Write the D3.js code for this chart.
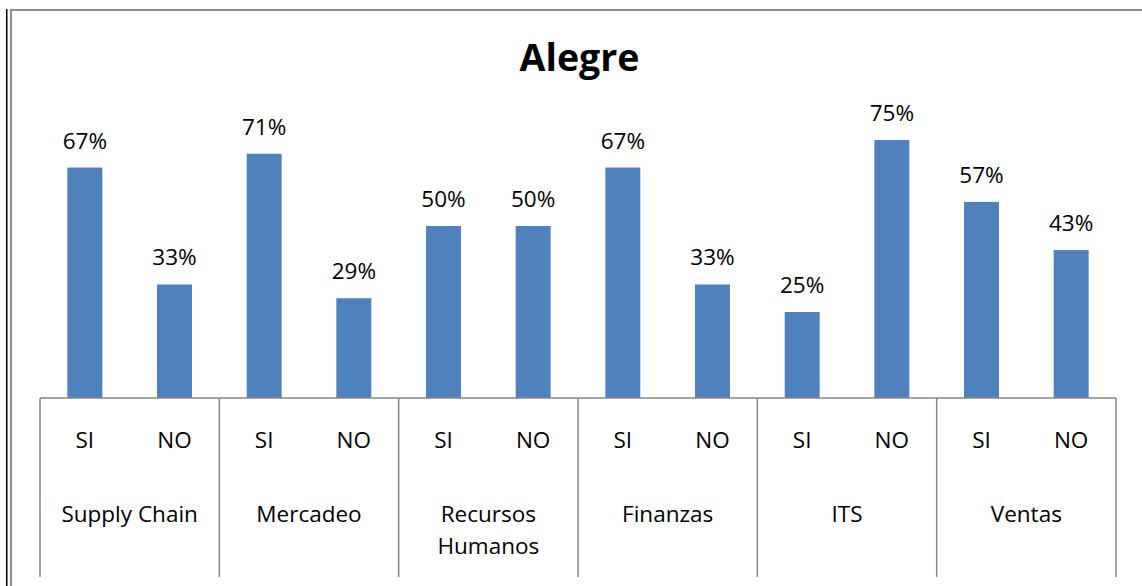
<!DOCTYPE html>
<html>
<head>
<meta charset="utf-8">
<script src="https://cdn.jsdelivr.net/npm/d3@7"></script>
<style>
  html, body { margin: 0; padding: 0; background: #ffffff; }
  svg { display: block; }
  text { font-family: "Open Sans", "Liberation Sans", sans-serif; fill: #000; }
</style>
</head>
<body>
<svg id="chart" width="1142" height="586"></svg>
<script>
// Chart data
const title = "Alegre";
const categories = ["Supply Chain", "Mercadeo", "Recursos Humanos", "Finanzas", "ITS", "Ventas"];
const answers = ["SI", "NO"];
const siValues = [67, 71, 50, 67, 25, 57];
const noValues = [33, 29, 50, 33, 75, 43];

const rows = categories.map((c, i) => ({
  category: c,
  bars: [
    { answer: answers[0], value: siValues[i] },
    { answer: answers[1], value: noValues[i] }
  ]
}));

const W = 1142, H = 586;
const svg = d3.select("#chart");
const labelSize = "22.5px";

// Frame
const frameColor = "#8c8c8c";
svg.append("line").attr("x1", 6.75).attr("x2", 6.75).attr("y1", 9).attr("y2", H)
  .attr("stroke", "#000").attr("stroke-width", 1.5);
svg.append("line").attr("x1", 11).attr("x2", 11).attr("y1", 9).attr("y2", H)
  .attr("stroke", frameColor).attr("stroke-width", 2);
svg.append("line").attr("x1", 10).attr("x2", W).attr("y1", 10).attr("y2", 10)
  .attr("stroke", frameColor).attr("stroke-width", 2);

// Scales
const plotLeft = 40, plotRight = 1116, baseY = 398, axisBottom = 577;
const x = d3.scaleBand().domain(categories).range([plotLeft, plotRight]).padding(0);
const xSub = d3.scaleBand().domain(answers).range([0, x.bandwidth()])
  .paddingInner(0.61).paddingOuter(0.305);
const y = d3.scaleLinear().domain([0, 100]).range([baseY, 54]);

// Title
svg.append("text")
  .attr("x", 579.5).attr("y", 70.5)
  .attr("text-anchor", "middle")
  .style("font-size", "37.5px").style("font-weight", "bold")
  .text(title);

// Bars and value labels
const groups = svg.selectAll("g.cat").data(rows).join("g")
  .attr("class", "cat")
  .attr("transform", d => `translate(${x(d.category)},0)`);

groups.selectAll("rect").data(d => d.bars).join("rect")
  .attr("x", d => xSub(d.answer))
  .attr("y", d => y(d.value))
  .attr("width", xSub.bandwidth())
  .attr("height", d => baseY - y(d.value))
  .attr("fill", "#4f81bd");

groups.selectAll("text.val").data(d => d.bars).join("text")
  .attr("class", "val")
  .attr("x", d => xSub(d.answer) + xSub.bandwidth() / 2)
  .attr("y", d => y(d.value) - 19)
  .attr("text-anchor", "middle")
  .style("font-size", labelSize)
  .text(d => d.value + "%");

// Axis: baseline and category dividers
const axisColor = "#868686";
svg.append("line").attr("x1", plotLeft).attr("x2", plotRight)
  .attr("y1", baseY).attr("y2", baseY)
  .attr("stroke", axisColor).attr("stroke-width", 1.5);

const edges = categories.map(c => x(c)).concat([plotRight]);
svg.selectAll("line.div").data(edges).join("line")
  .attr("class", "div")
  .attr("x1", d => d).attr("x2", d => d)
  .attr("y1", baseY).attr("y2", axisBottom)
  .attr("stroke", axisColor).attr("stroke-width", 1.5);

// Sub-category labels (SI / NO)
groups.selectAll("text.sub").data(d => d.bars).join("text")
  .attr("class", "sub")
  .attr("x", d => xSub(d.answer) + xSub.bandwidth() / 2)
  .attr("y", 448)
  .attr("text-anchor", "middle")
  .style("font-size", labelSize)
  .text(d => d.answer);

// Category labels, wrapped to the band width
const maxLabel = x.bandwidth() - 20;
groups.append("text")
  .attr("class", "catlabel")
  .attr("text-anchor", "middle")
  .style("font-size", labelSize)
  .each(function(d) {
    const t = d3.select(this);
    const words = d.category.split(" ");
    let lines = [], line = [];
    const probe = t.append("tspan");
    words.forEach(w => {
      const test = line.concat([w]).join(" ");
      probe.text(test);
      if (probe.node().getComputedTextLength() > maxLabel && line.length) {
        lines.push(line.join(" "));
        line = [w];
      } else {
        line.push(w);
      }
    });
    lines.push(line.join(" "));
    probe.remove();
    lines.forEach((l, i) => {
      t.append("tspan")
        .attr("x", x.bandwidth() / 2)
        .attr("y", 522 + i * 31.5)
        .text(l);
    });
  });
</script>
</body>
</html>
